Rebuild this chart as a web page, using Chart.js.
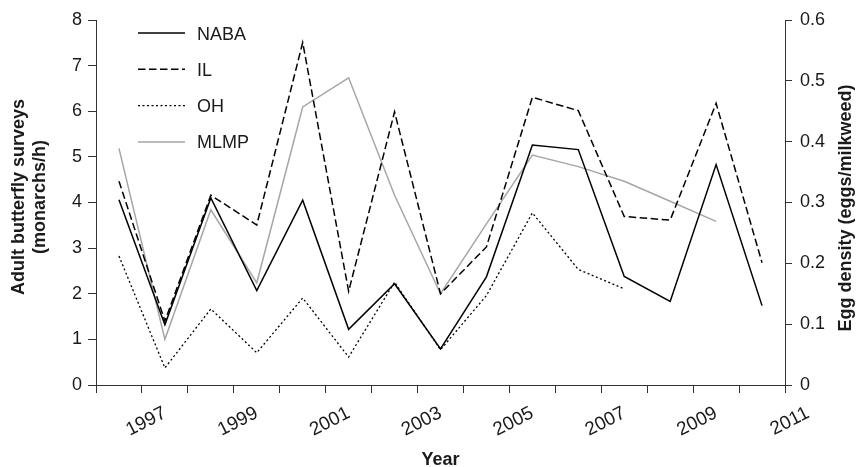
<!DOCTYPE html>
<html>
<head>
<meta charset="utf-8">
<script src="https://cdn.jsdelivr.net/npm/chart.js@4.4.1/dist/chart.umd.min.js"></script>
<style>
  html, body { margin: 0; padding: 0; background: #ffffff; }
  #wrap { width: 857px; height: 467px; }
</style>
</head>
<body>
<div id="wrap"><canvas id="c" width="857" height="467"></canvas></div>
<script>
// Survey years and monitoring series
const years = [1996, 1997, 1998, 1999, 2000, 2001, 2002, 2003, 2004, 2005, 2006, 2007, 2008, 2009, 2010];
// Adult butterfly counts (monarchs/h), left axis
const naba = [4.06, 1.32, 4.10, 2.07, 4.05, 1.22, 2.22, 0.79, 2.37, 5.26, 5.16, 2.38, 1.83, 4.83, 1.74];
// Egg densities (eggs/milkweed), right axis
const il   = [0.335, 0.105, 0.312, 0.263, 0.563, 0.154, 0.449, 0.150, 0.227, 0.473, 0.451, 0.277, 0.271, 0.463, 0.201];
const oh   = [0.212, 0.028, 0.125, 0.053, 0.143, 0.046, 0.169, 0.058, 0.147, 0.283, 0.190, 0.158, null, null, null];
const mlmp = [0.389, 0.075, 0.288, 0.168, 0.457, 0.505, 0.312, 0.150, 0.265, 0.378, 0.359, 0.335, 0.302, 0.269, null];
// Year labels along the bottom axis
const yearLabels = ['1997', '1999', '2001', '2003', '2005', '2007', '2009', '2011'];
const seriesNames = ['NABA', 'IL', 'OH', 'MLMP'];
const leftTitle = ['Adult butterfly surveys', '(monarchs/h)'];
const rightTitle = 'Egg density (eggs/milkweed)';
const bottomTitle = 'Year';

const FONT = "'Liberation Sans', Arial, Helvetica, sans-serif";
const AXIS = '#333333';
const TEXT = '#1a1a1a';

Chart.defaults.font.family = FONT;

const pts = (vals) => years.map((yr, i) => ({ x: yr, y: vals[i] }));
// tick marks sit on the boundaries between years
const boundaries = years.map(yr => yr - 0.5).concat([years[years.length - 1] + 0.5]);

// Key drawn inside the plot, top-left
const inlineKey = {
  id: 'inlineKey',
  afterDatasetsDraw(chart) {
    const ctx = chart.ctx;
    ctx.save();
    chart.data.datasets.forEach((ds, i) => {
      const y = 33 + i * 36.3;
      ctx.beginPath();
      ctx.setLineDash(ds.borderDash || []);
      ctx.strokeStyle = ds.borderColor;
      ctx.lineWidth = ds.borderWidth;
      ctx.moveTo(138, y);
      ctx.lineTo(185, y);
      ctx.stroke();
      ctx.setLineDash([]);
      ctx.fillStyle = TEXT;
      ctx.font = '18px ' + FONT;
      ctx.textAlign = 'left';
      ctx.textBaseline = 'alphabetic';
      ctx.fillText(ds.label, 197, y + 6.5);
    });
    ctx.restore();
  }
};

// Axis titles
const axisTitles = {
  id: 'axisTitles',
  afterDraw(chart) {
    const ctx = chart.ctx;
    const area = chart.chartArea;
    ctx.save();
    ctx.fillStyle = TEXT;
    ctx.font = 'bold 18px ' + FONT;
    ctx.textAlign = 'center';
    ctx.textBaseline = 'alphabetic';
    // left
    ctx.save();
    ctx.translate(24, 197);
    ctx.rotate(-Math.PI / 2);
    leftTitle.forEach((line, i) => ctx.fillText(line, 0, i * 21));
    ctx.restore();
    // right
    ctx.save();
    ctx.translate(851, 208);
    ctx.rotate(-Math.PI / 2);
    ctx.fillText(rightTitle, 0, 0);
    ctx.restore();
    // bottom
    ctx.fillText(bottomTitle, (area.left + area.right) / 2, 465);
    ctx.restore();
  }
};

new Chart(document.getElementById('c'), {
  type: 'line',
  data: {
    datasets: [
      { label: seriesNames[0], data: pts(naba), yAxisID: 'y', borderColor: '#000000', borderWidth: 1.5 },
      { label: seriesNames[1], data: pts(il), yAxisID: 'y2', borderColor: '#000000', borderWidth: 1.5, borderDash: [7.5, 3.5] },
      { label: seriesNames[2], data: pts(oh), yAxisID: 'y2', borderColor: '#000000', borderWidth: 1.3, borderDash: [2, 2.5] },
      { label: seriesNames[3], data: pts(mlmp), yAxisID: 'y2', borderColor: '#a6a6a6', borderWidth: 1.5 }
    ]
  },
  options: {
    responsive: false,
    animation: false,
    devicePixelRatio: 1,
    layout: { padding: { top: 20, left: 0, right: 0, bottom: 0 } },
    elements: {
      point: { radius: 0, hoverRadius: 0 },
      line: { tension: 0, fill: false }
    },
    plugins: {
      legend: { display: false },
      tooltip: { enabled: false }
    },
    scales: {
      x: {
        type: 'linear',
        position: 'bottom',
        min: boundaries[0],
        max: boundaries[boundaries.length - 1],
        afterBuildTicks: (s) => { s.ticks = boundaries.map(v => ({ value: v })); },
        afterFit: (s) => { s.height = 82; },
        grid: { drawOnChartArea: false, drawTicks: true, tickLength: 8, color: AXIS, lineWidth: 1 },
        border: { display: true, color: AXIS, width: 1 },
        ticks: {
          autoSkip: false,
          minRotation: 27,
          maxRotation: 27,
          labelOffset: 23,
          padding: 9,
          color: TEXT,
          font: { size: 19 },
          callback: (v) => {
            const s = String(Math.round(v + 0.5));
            return yearLabels.includes(s) ? s : '';
          }
        }
      },
      y: {
        position: 'left',
        min: 0,
        max: 8,
        afterFit: (s) => { s.width = 96; },
        grid: { drawOnChartArea: false, drawTicks: true, tickLength: 8, color: AXIS, lineWidth: 1 },
        border: { display: true, color: AXIS, width: 1 },
        ticks: { stepSize: 1, padding: 6, color: TEXT, font: { size: 18 } }
      },
      y2: {
        position: 'right',
        min: 0,
        max: 0.6,
        afterFit: (s) => { s.width = 72; },
        grid: { drawOnChartArea: false, drawTicks: true, tickLength: 7, color: AXIS, lineWidth: 1 },
        border: { display: true, color: AXIS, width: 1 },
        ticks: {
          stepSize: 0.1,
          padding: 8,
          color: TEXT,
          font: { size: 18 },
          callback: (v) => (v === 0 ? '0' : v.toFixed(1))
        }
      }
    }
  },
  plugins: [inlineKey, axisTitles]
});
</script>
</body>
</html>
